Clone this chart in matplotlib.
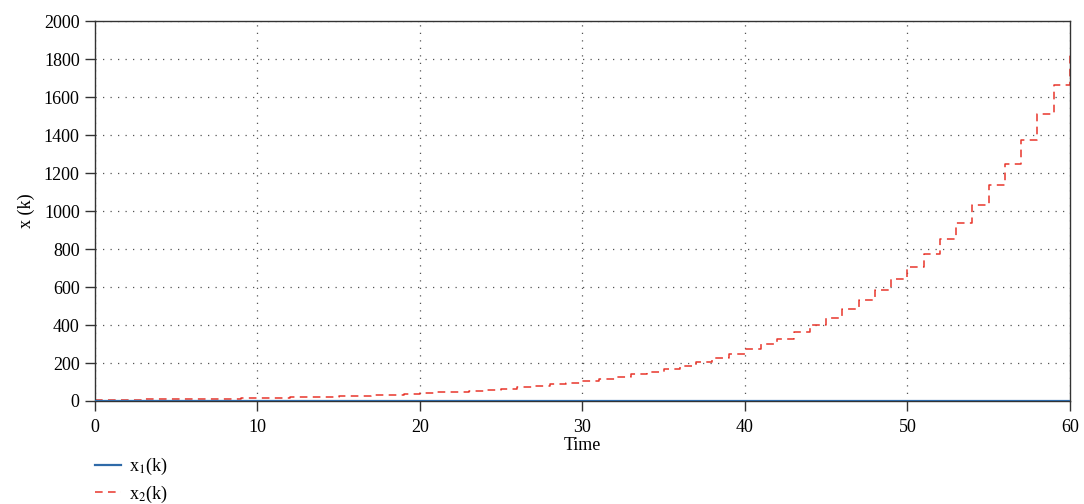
import numpy as np
import matplotlib
matplotlib.use("Agg")
import matplotlib.pyplot as plt

plt.rcParams['font.family'] = ['Liberation Serif', 'DejaVu Serif']
plt.rcParams['mathtext.fontset'] = 'stix'

# time steps and state values
k = list(range(61))
x1 = [0] * 61
x2 = [6, 7, 7, 8, 9, 10, 11, 12, 13, 14,
      16, 17, 19, 21, 23, 25, 28, 30, 33, 37,
      40, 45, 49, 54, 59, 65, 72, 79, 87, 95,
      105, 115, 127, 140, 154, 169, 186, 204, 225, 247,
      272, 299, 329, 362, 398, 438, 482, 530, 583, 641,
      705, 776, 853, 939, 1032, 1136, 1249, 1374, 1512, 1663,
      1825]

xticks = [0, 10, 20, 30, 40, 50, 60]
yticks = list(range(0, 2001, 200))

fig, ax = plt.subplots(figsize=(10.84, 5.04), dpi=100)
plt.subplots_adjust(left=0.0876, right=0.987, top=0.958, bottom=0.2044)

ax.plot(k, x1, color='#2f6aa8', lw=1.6, drawstyle='steps-post', label='x$_1$(k)', zorder=3)
ax.plot(k, x2, color='#e8352b', lw=1.1, ls=(0, (5, 3.5)), drawstyle='steps-post',
        label='x$_2$(k)', zorder=2)

ax.set_xlim(0, 60)
ax.set_ylim(0, 2000)
ax.set_xticks(xticks)
ax.set_yticks(yticks)
ax.grid(True, ls=(0, (1, 5)), color='#555555', lw=0.9)
ax.tick_params(direction='out', length=7, width=1.0, labelsize=13, color='#333333')
ax.tick_params(axis='x', pad=6)
ax.tick_params(axis='y', pad=4)
for s in ax.spines.values():
    s.set_color('#333333')
    s.set_linewidth(1.0)

ax.set_xlabel('Time', fontsize=13, labelpad=1)
ax.set_ylabel('x (k)', fontsize=13, labelpad=6)

fig.legend(loc='upper left', bbox_to_anchor=(0.0876, 0.095), frameon=False,
           fontsize=13, handlelength=1.45, handletextpad=0.45, labelspacing=0.35,
           borderaxespad=0, borderpad=0)

plt.savefig('out.png', dpi=100)
